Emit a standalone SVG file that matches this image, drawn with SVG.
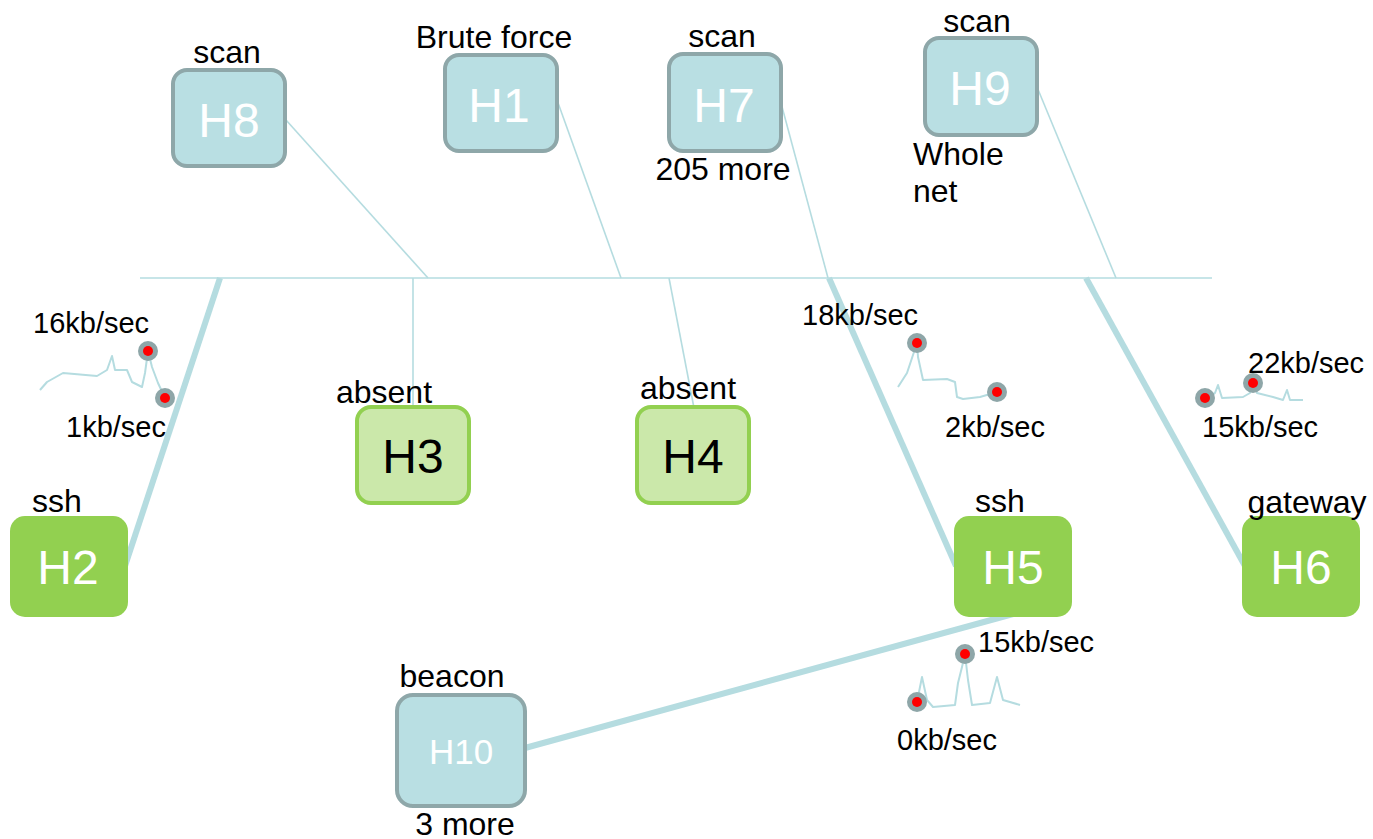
<svg xmlns="http://www.w3.org/2000/svg" width="1373" height="839" viewBox="0 0 1373 839">
<style>
.lbl{font-family:"Liberation Sans",Arial,sans-serif;font-size:29px;fill:#000}
.an{font-family:"Liberation Sans",Arial,sans-serif;font-size:32px;fill:#000}
.nt{font-family:"Liberation Sans",Arial,sans-serif;font-size:48px;text-anchor:middle}
.blue rect{fill:#b9dfe3;stroke:#8ea7a9;stroke-width:4}
.blue .nt{fill:#fff}
.green rect{fill:#92d050}
.green .nt{fill:#fff}
.lgreen rect{fill:#cbe8aa;stroke:#92d050;stroke-width:4}
.lgreen .nt{fill:#000}
.thin{stroke:#b5dce0;stroke-width:1.6;fill:none}
.thick{stroke:#b5dce0;stroke-width:6;fill:none}
.spark{stroke:#b5dce0;stroke-width:2;fill:none;stroke-linejoin:round}
.dot1{fill:#8ea6a8}
.dot2{fill:#ff0000}
</style>
<rect width="1373" height="839" fill="#fff"/>
<g id="connectors">
<line class="thin" x1="140" y1="278" x2="1212" y2="278"/>
<line class="thin" x1="286" y1="120" x2="428" y2="278"/>
<line class="thin" x1="557" y1="100" x2="621" y2="278"/>
<line class="thin" x1="781" y1="103" x2="828" y2="278"/>
<line class="thin" x1="1037" y1="87" x2="1116" y2="278"/>
<line class="thin" x1="413" y1="278" x2="413" y2="406"/>
<line class="thin" x1="669" y1="278" x2="694" y2="408"/>
<line class="thick" x1="220" y1="278" x2="125" y2="566"/>
<line class="thick" x1="829" y1="278" x2="956" y2="566"/>
<line class="thick" x1="1086" y1="278" x2="1245" y2="566"/>
<line class="thick" x1="525" y1="748" x2="1013" y2="614"/>
</g>
<g id="sparklines">
<path class="spark" d="M40,390 L47,382 L63,373 L97,376 L107,370 L112,356 L115,370 L127,370 L132,382 L142,387 L145,373 L148,351 L152,367 L158,383 L165,398"/>
<circle class="dot1" cx="148" cy="351" r="10"/><circle class="dot2" cx="148" cy="351" r="5"/>
<circle class="dot1" cx="165" cy="398" r="10"/><circle class="dot2" cx="165" cy="398" r="5"/>
<text class="lbl" x="33" y="333">16kb/sec</text>
<text class="lbl" x="66" y="437">1kb/sec</text>

<path class="spark" d="M898,387 L907,373 L913,355 L917,343 L918,357 L923,380 L947,379 L955,382 L957,397 L963,399 L980,397 L997,392"/>
<circle class="dot1" cx="917" cy="343" r="10"/><circle class="dot2" cx="917" cy="343" r="5"/>
<circle class="dot1" cx="997" cy="392" r="10"/><circle class="dot2" cx="997" cy="392" r="5"/>
<text class="lbl" x="802" y="325">18kb/sec</text>
<text class="lbl" x="945" y="437">2kb/sec</text>

<path class="spark" d="M1205,398 L1215,393 L1218,385 L1222,398 L1243,397 L1250,393 L1253,383 L1257,393 L1273,397 L1283,400 L1287,390 L1290,400 L1303,400"/>
<circle class="dot1" cx="1205" cy="398" r="10"/><circle class="dot2" cx="1205" cy="398" r="5"/>
<circle class="dot1" cx="1253" cy="383" r="10"/><circle class="dot2" cx="1253" cy="383" r="5"/>
<text class="lbl" x="1248" y="373">22kb/sec</text>
<text class="lbl" x="1202" y="437">15kb/sec</text>

<path class="spark" d="M917,702 L922,677 L927,700 L933,707 L955,705 L958,683 L962,667 L965,654 L968,680 L972,705 L990,703 L997,677 L1003,700 L1020,705"/>
<circle class="dot1" cx="965" cy="654" r="10"/><circle class="dot2" cx="965" cy="654" r="5"/>
<circle class="dot1" cx="917" cy="702" r="10"/><circle class="dot2" cx="917" cy="702" r="5"/>
<text class="lbl" x="978" y="652">15kb/sec</text>
<text class="lbl" x="897" y="750">0kb/sec</text>
</g>
<g id="H8" class="blue">
<rect x="173" y="70" width="112" height="96" rx="14"/>
<text class="nt" x="229" y="137">H8</text>
<text class="an" x="227" y="63" text-anchor="middle">scan</text>
</g>
<g id="H1" class="blue">
<rect x="445" y="55" width="112" height="96" rx="14"/>
<text class="nt" x="499" y="122">H1</text>
<text class="an" x="494" y="48" text-anchor="middle">Brute force</text>
</g>
<g id="H7" class="blue">
<rect x="669" y="54" width="112" height="97" rx="14"/>
<text class="nt" x="724" y="122">H7</text>
<text class="an" x="722" y="47" text-anchor="middle">scan</text>
<text class="an" x="723" y="180" text-anchor="middle">205 more</text>
</g>
<g id="H9" class="blue">
<rect x="925" y="38" width="112" height="97" rx="14"/>
<text class="nt" x="980" y="105">H9</text>
<text class="an" x="977" y="32" text-anchor="middle">scan</text>
<text class="an" x="913" y="165">Whole</text>
<text class="an" x="913" y="202">net</text>
</g>
<g id="H3" class="lgreen">
<rect x="357" y="407" width="112" height="96" rx="14"/>
<text class="nt" x="413" y="473">H3</text>
<text class="an" x="384" y="403" text-anchor="middle">absent</text>
</g>
<g id="H4" class="lgreen">
<rect x="637" y="407" width="112" height="96" rx="14"/>
<text class="nt" x="693" y="473">H4</text>
<text class="an" x="688" y="399" text-anchor="middle">absent</text>
</g>
<g id="H2" class="green">
<rect x="10" y="516" width="118" height="101" rx="15"/>
<text class="nt" x="68" y="584">H2</text>
<text class="an" x="57" y="512" text-anchor="middle">ssh</text>
</g>
<g id="H5" class="green">
<rect x="954" y="516" width="118" height="101" rx="15"/>
<text class="nt" x="1013" y="584">H5</text>
<text class="an" x="1000" y="512" text-anchor="middle">ssh</text>
</g>
<g id="H6" class="green">
<rect x="1242" y="516" width="118" height="101" rx="15"/>
<text class="nt" x="1301" y="584">H6</text>
<text class="an" x="1307" y="513" text-anchor="middle">gateway</text>
</g>
<g id="H10" class="blue">
<rect x="397" y="695" width="128" height="111" rx="16"/>
<text class="nt" x="461" y="764" style="font-size:35px">H10</text>
<text class="an" x="452" y="687" text-anchor="middle">beacon</text>
<text class="an" x="465" y="835" text-anchor="middle">3 more</text>
</g>
</svg>
